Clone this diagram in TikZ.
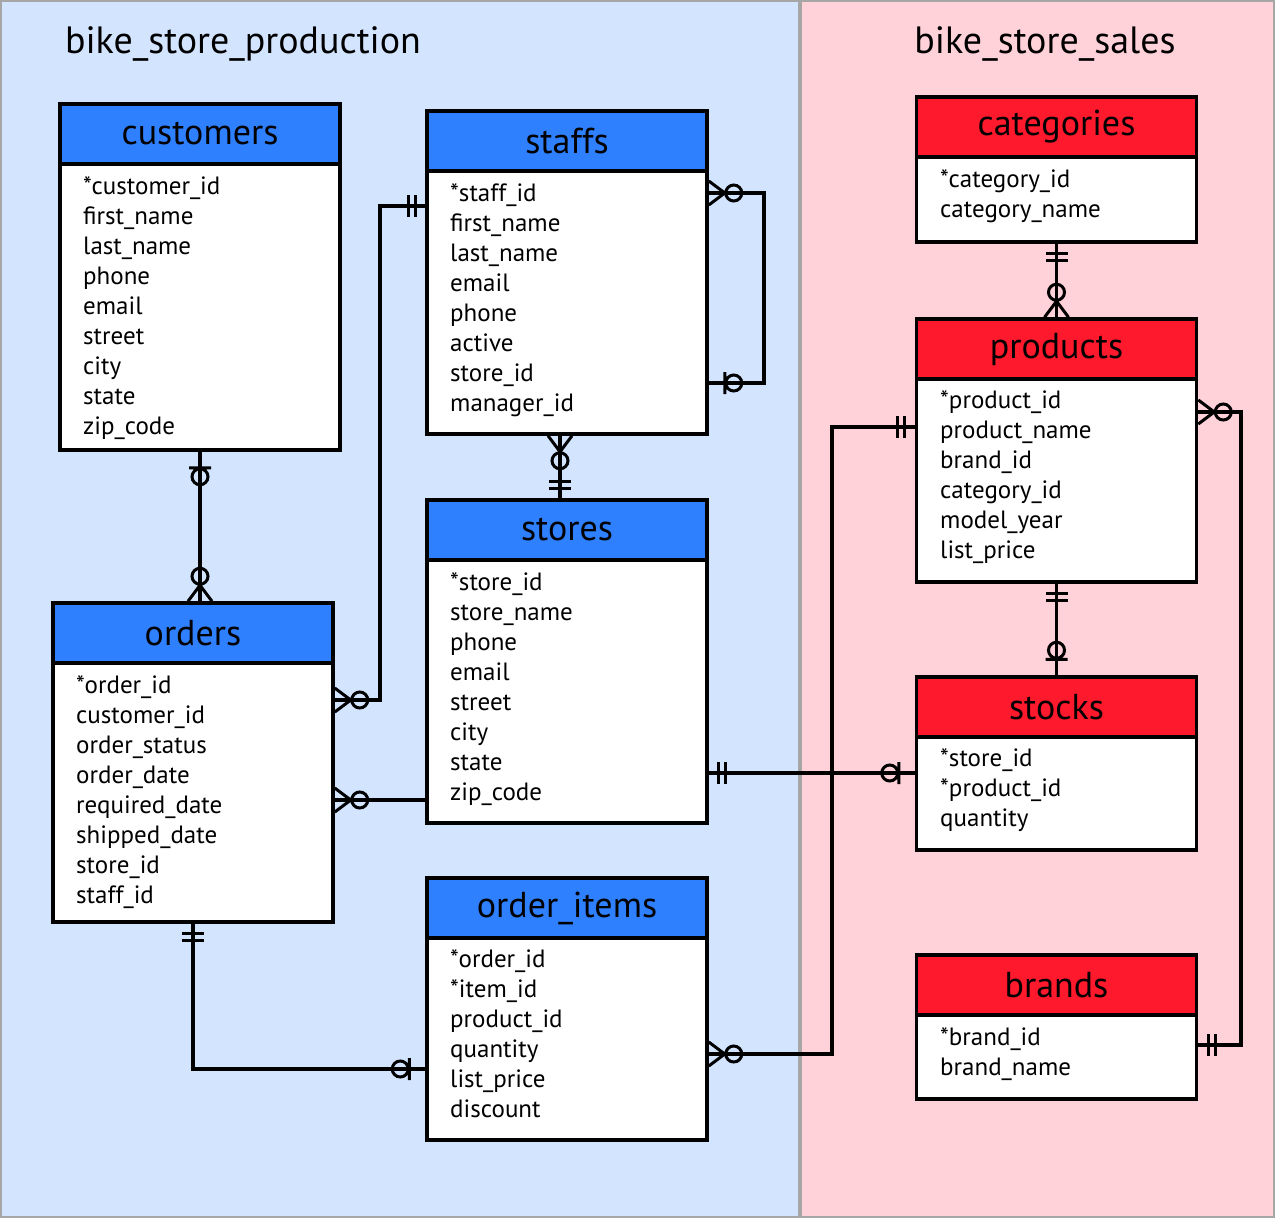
\documentclass[tikz,border=0pt]{standalone}
\usepackage{fontspec}
\setmainfont{PT Sans}
\usetikzlibrary{decorations.markings}

\definecolor{prodbg}{RGB}{211,228,255}
\definecolor{salesbg}{RGB}{255,209,216}
\definecolor{prodhead}{RGB}{47,128,255}
\definecolor{saleshead}{RGB}{255,25,45}
\definecolor{divgray}{RGB}{166,166,166}

% crow's foot ends, drawn from the table edge outwards
\newcommand{\erzmany}[1]{\draw[erline,xscale=#1] (0,12) -- (16,0) -- (0,-12) (25,0) circle (8);}
\newcommand{\erzone}[1]{\draw[erline,xscale=#1] (16,-11) -- (16,11) (25,0) circle (8);}
\newcommand{\erone}[1]{\draw[erline,xscale=#1] (10,-11) -- (10,11) (17,-11) -- (17,11);}

\begin{document}
\begin{tikzpicture}[x=1pt,y=-1pt,
  erline/.style={line width=3pt, black},
  conn/.style={line width=3.5pt},
  hdr/.style={draw, line width=3.5pt, minimum width=280pt, minimum height=60pt, inner sep=0pt, font=\fontsize{36}{40}\selectfont},
  body/.style={draw, fill=white, line width=3.5pt, minimum width=280pt, inner sep=0pt},
  field/.style={anchor=base west, inner sep=0pt, font=\fontsize{25}{28}\selectfont},
  title/.style={inner sep=0pt, font=\fontsize{38}{42}\selectfont},
  zmany start/.style={postaction={decorate,decoration={markings,mark=at position 0 with {\erzmany{1}}}}},
  zmany end/.style={postaction={decorate,decoration={markings,mark=at position 1 with {\erzmany{-1}}}}},
  zone start/.style={postaction={decorate,decoration={markings,mark=at position 0 with {\erzone{1}}}}},
  zone end/.style={postaction={decorate,decoration={markings,mark=at position 1 with {\erzone{-1}}}}},
  one start/.style={postaction={decorate,decoration={markings,mark=at position 0 with {\erone{1}}}}},
  one end/.style={postaction={decorate,decoration={markings,mark=at position 1 with {\erone{-1}}}}}]

\useasboundingbox (0,0) rectangle (1275,1218);
\fill[prodbg] (0,0) rectangle (800,1218);
\fill[salesbg] (800,0) rectangle (1275,1218);
\draw[divgray, line width=4pt] (800,0) -- (800,1218);
\draw[divgray, line width=2pt] (1,1) rectangle (1274,1217);

\node[title] (prodtitle) at (243,44) {bike\_store\_production};
\node[title] (salestitle) at (1045,44) {bike\_store\_sales};

% customers
\node[body, minimum height=286pt] (customersb) at (200,307) {};
\node[hdr, fill=prodhead] (customers) at (200,134) {customers};
\foreach \f [count=\i] in {*customer\_id,first\_name,last\_name,phone,email,street,city,state,zip\_code}
  \node[field] at (83,{194+30*(\i-1)}) {\f};

% staffs
\node[body, minimum height=263pt] (staffsb) at (567,302.5) {};
\node[hdr, fill=prodhead] (staffs) at (567,141) {staffs};
\foreach \f [count=\i] in {*staff\_id,first\_name,last\_name,email,phone,active,store\_id,manager\_id}
  \node[field] at (450,{201+30*(\i-1)}) {\f};

% stores
\node[body, minimum height=263pt] (storesb) at (567,691.5) {};
\node[hdr, fill=prodhead] (stores) at (567,530) {stores};
\foreach \f [count=\i] in {*store\_id,store\_name,phone,email,street,city,state,zip\_code}
  \node[field] at (450,{590+30*(\i-1)}) {\f};

% orders
\node[body, minimum height=259pt] (ordersb) at (193,792.5) {};
\node[hdr, fill=prodhead] (orders) at (193,633) {orders};
\foreach \f [count=\i] in {*order\_id,customer\_id,order\_status,order\_date,required\_date,shipped\_date,store\_id,staff\_id}
  \node[field] at (76,{693+30*(\i-1)}) {\f};

% order_items
\node[body, minimum height=202pt] (itemsb) at (567,1039) {};
\node[hdr, fill=prodhead] (items) at (567,908) {order\_items};
\foreach \f [count=\i] in {*order\_id,*item\_id,product\_id,quantity,list\_price,discount}
  \node[field] at (450,{967+30*(\i-1)}) {\f};

% categories
\node[body, minimum height=85pt] (categoriesb) at (1056.5,199.5) {};
\node[hdr, fill=saleshead] (categories) at (1056.5,127) {categories};
\foreach \f [count=\i] in {*category\_id,category\_name}
  \node[field] at (940,{187+30*(\i-1)}) {\f};

% products
\node[body, minimum height=203pt] (productsb) at (1056.5,480.5) {};
\node[hdr, fill=saleshead] (products) at (1056.5,349) {products};
\foreach \f [count=\i] in {*product\_id,product\_name,brand\_id,category\_id,model\_year,list\_price}
  \node[field] at (940,{408+30*(\i-1)}) {\f};

% stocks
\node[body, minimum height=113pt] (stocksb) at (1056.5,793.5) {};
\node[hdr, fill=saleshead] (stocks) at (1056.5,707) {stocks};
\foreach \f [count=\i] in {*store\_id,*product\_id,quantity}
  \node[field] at (940,{766+30*(\i-1)}) {\f};

% brands
\node[body, minimum height=84pt] (brandsb) at (1056.5,1057) {};
\node[hdr, fill=saleshead] (brands) at (1056.5,985) {brands};
\foreach \f [count=\i] in {*brand\_id,brand\_name}
  \node[field] at (940,{1045+30*(\i-1)}) {\f};

% relations
\draw[conn, zone start, zmany end] (customersb.south) -- (customersb.south |- orders.north);
\draw[conn, zmany start, one end] (ordersb.east |- 0,700) -| (380,206) -- (staffsb.west |- 0,206);
\draw[conn, zmany start, zone end] (staffsb.east |- 0,193) -| (764,383) -- (staffsb.east |- 0,383);
\draw[conn, zmany start, one end] (staffsb.south -| 560,0) -- (stores.north -| 560,0);
\draw[conn, zmany start] (ordersb.east |- 0,800) -- (storesb.west |- 0,800);
\draw[conn, one start, zone end] (storesb.east |- 0,773) -- (stocksb.west |- 0,773);
\draw[conn, one start, zone end] (ordersb.south) |- (itemsb.west |- 0,1069);
\draw[conn, zmany start, one end] (itemsb.east |- 0,1054) -| (832,427) -- (productsb.west |- 0,427);
\draw[conn, one start, zmany end] (categoriesb.south) -- (products.north);
\draw[conn, one start, zone end] (productsb.south) -- (stocks.north);
\draw[conn, zmany start, one end] (productsb.east |- 0,412) -| (1241,1045) -- (brandsb.east |- 0,1045);
\end{tikzpicture}
\end{document}
